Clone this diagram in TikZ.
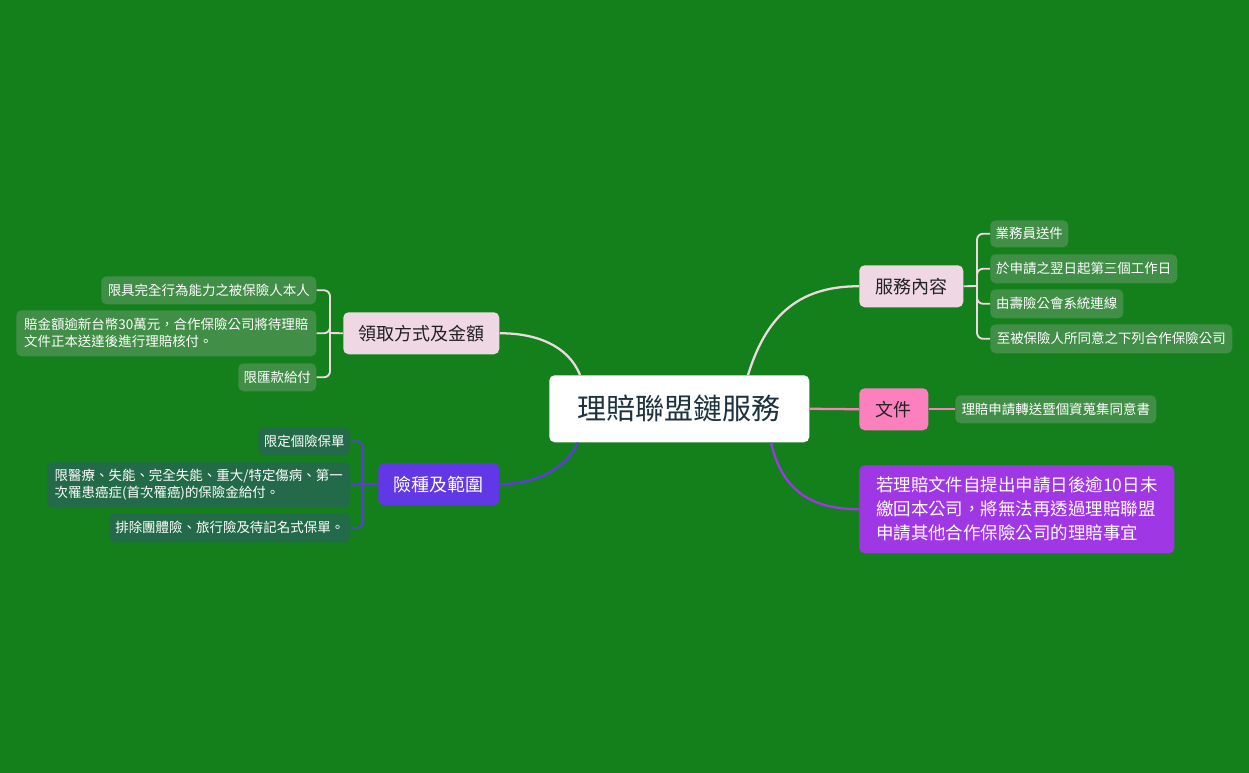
\documentclass[tikz,border=0pt]{standalone}
\usepackage{fontspec}
\setmainfont{Noto Sans CJK TC}
\usetikzlibrary{calc}
\definecolor{bg}{RGB}{19,128,28}
\definecolor{lpink}{RGB}{239,216,228}
\definecolor{docpink}{RGB}{252,127,190}
\definecolor{notepurple}{RGB}{160,55,228}
\definecolor{insblue}{RGB}{98,56,230}
\definecolor{kidgreen}{RGB}{65,143,71}
\definecolor{kiddark}{RGB}{35,107,72}
\definecolor{ctrtext}{RGB}{30,50,64}
\definecolor{darktext}{RGB}{34,34,34}
\tikzset{
  box/.style={rounded corners=4pt, inner sep=0pt, anchor=north west},
  ctrbox/.style={box, fill=white, text=ctrtext, font=\fontsize{21.8}{26}\selectfont},
  topicL/.style={box, fill=lpink, text=darktext, font=\fontsize{13.5}{16}\selectfont},
  kid/.style={box, fill=kidgreen, text=white, font=\fontsize{10.1}{12.75}\selectfont, align=left},
  kidd/.style={box, fill=kiddark, text=white, font=\fontsize{10.1}{12.75}\selectfont, align=left},
  mainline/.style={line width=1.7pt},
  brline/.style={line width=1.4pt, rounded corners=4.5pt},
}
\begin{document}
\begin{tikzpicture}[x=0.75pt,y=-0.75pt]
\fill[bg] (0,0) rectangle (1249,773);
\useasboundingbox (0,0) rectangle (1249,773);

% central
\node[ctrbox, minimum width=260*0.75pt, minimum height=67*0.75pt] (ctr) at (549,375) {理賠聯盟鏈服務};

% right side
\node[topicL, minimum width=104*0.75pt, minimum height=42*0.75pt] (svc) at (859,265) {服務內容};
\node[kid, minimum width=78*0.75pt, minimum height=27*0.75pt] (s1) at (990,220) {業務員送件};
\node[kid, minimum width=187*0.75pt, minimum height=29*0.75pt] (s2) at (990,254) {於申請之翌日起第三個工作日};
\node[kid, minimum width=133*0.75pt, minimum height=29*0.75pt] (s3) at (990,289) {由壽險公會系統連線};
\node[kid, minimum width=242*0.75pt, minimum height=29*0.75pt] (s4) at (990,324) {至被保險人所同意之下列合作保險公司};

\node[box, fill=docpink, text=darktext, font=\fontsize{13.5}{16}\selectfont, minimum width=69*0.75pt, minimum height=42*0.75pt] (doc) at (859,388) {文件};
\node[kid, minimum width=201*0.75pt, minimum height=28*0.75pt] (d1) at (955,395) {理賠申請轉送暨個資蒐集同意書};

\node[box, fill=notepurple, text=white, font=\fontsize{13.1}{18}\selectfont, align=left, minimum width=315*0.75pt, minimum height=88*0.75pt] (note) at (859,465) {若理賠文件自提出申請日後逾10日未\\繳回本公司，將無法再透過理賠聯盟\\申請其他合作保險公司的理賠事宜};

% left side
\node[topicL, minimum width=156*0.75pt, minimum height=42*0.75pt] (coll) at (343,312) {領取方式及金額};
\node[kid, minimum width=215*0.75pt, minimum height=28*0.75pt] (c1) at (101,276) {限具完全行為能力之被保險人本人};
\node[kid, minimum width=300*0.75pt, minimum height=46*0.75pt] (c2) at (16,310) {賠金額逾新台幣30萬元，合作保險公司將待理賠\\文件正本送達後進行理賠核付。};
\node[kid, minimum width=78*0.75pt, minimum height=28*0.75pt] (c3) at (238,363) {限匯款給付};

\node[box, fill=insblue, text=white, font=\fontsize{13.5}{16}\selectfont, minimum width=121*0.75pt, minimum height=42*0.75pt] (ins) at (378,463) {險種及範圍};
\node[kidd, minimum width=92*0.75pt, minimum height=28*0.75pt] (i1) at (258,427) {限定個險保單};
\node[kidd, minimum width=303*0.75pt, minimum height=45*0.75pt] (i2) at (47,462) {限醫療、失能、完全失能、重大/特定傷病、第一\\次罹患癌症(首次罹癌)的保險金給付。};
\node[kidd, minimum width=241*0.75pt, minimum height=29*0.75pt] (i3) at (109,513) {排除團體險、旅行險及待記名式保單。};

% main connectors
\draw[mainline, lpink] ($(ctr.north west)+(199,0)$) .. controls (765,320) and (795,286) .. (svc.west);
\draw[mainline, docpink] (ctr.east) -- (doc.west);
\draw[mainline, notepurple] ($(ctr.south west)+(222,0)$) .. controls (782,490) and (810,509) .. (note.west);
\draw[mainline, lpink] ($(ctr.north west)+(31,0)$) .. controls (568,345) and (535,333) .. (coll.east);
\draw[mainline, insblue] ($(ctr.south west)+(29,0)$) .. controls (565,470) and (535,484) .. (ins.east);

% brackets
\coordinate (svcJ) at (977,286);
\draw[brline, lpink] (svc.east) -- (svcJ);
\foreach \k in {s1,s2,s3,s4} \draw[brline, lpink] (svcJ) |- (\k.west);
\draw[brline, docpink] (doc.east) -- (d1.west);

\coordinate (collJ) at (330,333);
\draw[brline, lpink] (coll.west) -- (collJ);
\foreach \k in {c1,c2,c3} \draw[brline, lpink] (collJ) |- (\k.east);

\coordinate (insJ) at (363,484);
\draw[brline, insblue] (ins.west) -- (insJ);
\foreach \k in {i1,i2,i3} \draw[brline, insblue] (insJ) |- (\k.east);
\end{tikzpicture}
\end{document}
